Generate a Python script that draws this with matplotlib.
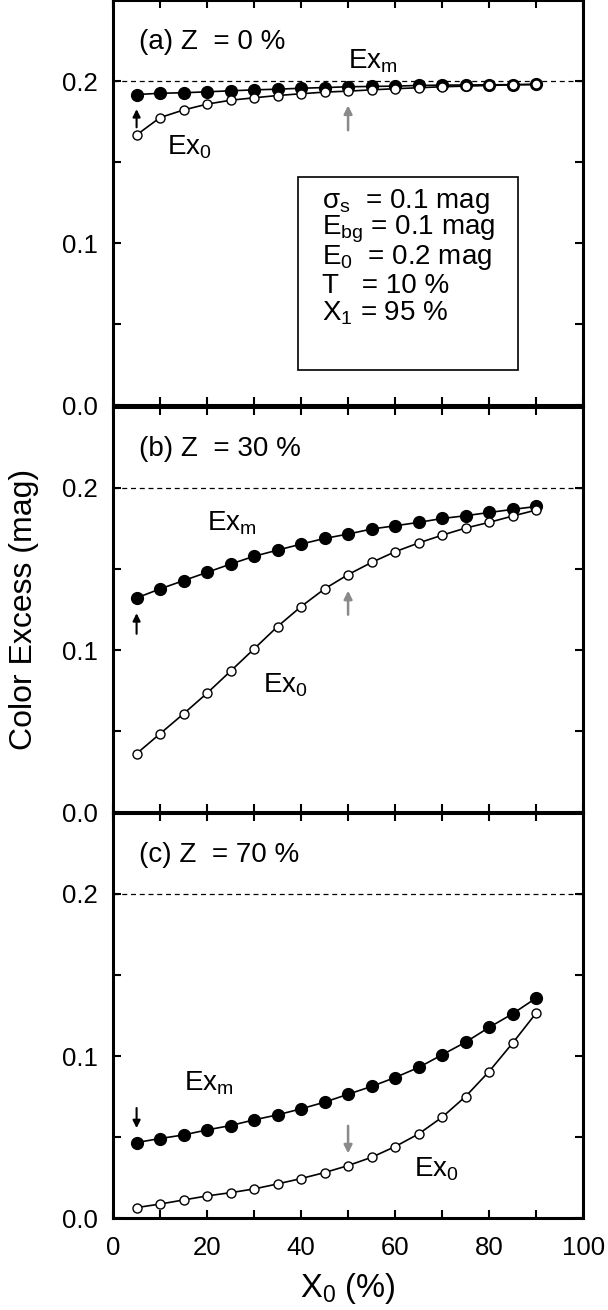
import matplotlib
matplotlib.use("Agg")
import matplotlib.pyplot as plt
from matplotlib.patches import Rectangle

plt.rcParams["font.family"] = ["Liberation Sans", "DejaVu Sans"]
plt.rcParams["mathtext.fontset"] = "custom"
plt.rcParams["mathtext.rm"] = "Liberation Sans"
plt.rcParams["mathtext.default"] = "regular"

# X0 (%) grid
x0 = [5, 10, 15, 20, 25, 30, 35, 40, 45, 50, 55, 60, 65, 70, 75, 80, 85, 90]

# (a) Z = 0 %
exm_a = [0.1917, 0.1925, 0.1928, 0.1934, 0.1940, 0.1946, 0.1950, 0.1956, 0.1960,
         0.1965, 0.1967, 0.1969, 0.1973, 0.1975, 0.1976, 0.1977, 0.1978, 0.1980]
ex0_a = [0.1668, 0.1775, 0.1822, 0.1858, 0.1882, 0.1897, 0.1911, 0.1922, 0.1932,
         0.1938, 0.1946, 0.1953, 0.1959, 0.1965, 0.1969, 0.1973, 0.1977, 0.1979]

# (b) Z = 30 %
exm_b = [0.1321, 0.1377, 0.1428, 0.1479, 0.1530, 0.1578, 0.1616, 0.1653, 0.1688,
         0.1715, 0.1746, 0.1766, 0.1787, 0.1811, 0.1828, 0.1848, 0.1867, 0.1885]
ex0_b = [0.0361, 0.0484, 0.0607, 0.0734, 0.0870, 0.1007, 0.1145, 0.1268, 0.1377,
         0.1465, 0.1540, 0.1606, 0.1660, 0.1708, 0.1752, 0.1787, 0.1826, 0.1863]

# (c) Z = 70 %
exm_c = [0.0467, 0.0492, 0.0514, 0.0545, 0.0572, 0.0607, 0.0638, 0.0675, 0.0716,
         0.0765, 0.0813, 0.0868, 0.0930, 0.1008, 0.1086, 0.1177, 0.1261, 0.1358]
ex0_c = [0.0066, 0.0088, 0.0113, 0.0138, 0.0158, 0.0181, 0.0212, 0.0245, 0.0282,
         0.0325, 0.0376, 0.0442, 0.0520, 0.0623, 0.0751, 0.0905, 0.1080, 0.1265]

panel_titles = ["(a) Z  = 0 %", "(b) Z  = 30 %", "(c) Z  = 70 %"]
e_true = 0.2

# arrows: (x, tail y, head y)
black_arrows = [(5, 0.1715, 0.1827), (5, 0.110, 0.1227), (5, 0.068, 0.0556)]
grey_arrows = [(50, 0.1697, 0.185), (50, 0.1218, 0.1366), (50, 0.057, 0.040)]

# label positions (x, y) for Exm and Ex0
exm_pos = [(50, 0.212), (20, 0.178), (15, 0.083)]
ex0_pos = [(11.5, 0.159), (32, 0.078), (64, 0.030)]

param_lines = ["σ$_s$  = 0.1 mag", "E$_{bg}$ = 0.1 mag", "E$_0$  = 0.2 mag",
               "T   = 10 %", "X$_1$ = 95 %"]

fig = plt.figure(figsize=(6.08, 13.1), dpi=100)
bottoms = [0.6905, 0.3800, 0.0700]
height = 0.3095
left, width = 0.186, 0.773

data = [(exm_a, ex0_a), (exm_b, ex0_b), (exm_c, ex0_c)]
for i, (exm, ex0) in enumerate(data):
    ax = fig.add_axes([left, bottoms[i], width, height])
    ax.axhline(e_true, color="black", ls=(0, (4, 3)), lw=0.9, zorder=1)
    ax.plot(x0, exm, "-o", color="black", mfc="black", mec="black",
            ms=8.5, lw=1.2, zorder=3)
    ax.plot(x0, ex0, "-o", color="black", mfc="white", mec="black",
            ms=6.5, mew=1.0, lw=1.2, zorder=4)

    ax.set_xlim(0, 100)
    ax.set_ylim(0, 0.25)
    ax.set_xticks([0, 20, 40, 60, 80, 100])
    ax.set_xticks([10, 30, 50, 70, 90], minor=True)
    ax.set_yticks([0.0, 0.1, 0.2])
    ax.set_yticks([0.05, 0.15], minor=True)
    ax.set_yticklabels(["0.0", "0.1", "0.2"])
    if i < 2:
        ax.set_xticklabels([])
    ax.tick_params(which="both", direction="in", top=True, right=True,
                   length=6, width=1.5, labelsize=18.5)
    ax.tick_params(axis="y", pad=11)
    ax.tick_params(axis="x", pad=13)
    for s in ax.spines.values():
        s.set_linewidth(2.2)

    ax.text(5.5, 0.224, panel_titles[i], fontsize=20, va="center", ha="left")
    ax.text(exm_pos[i][0], exm_pos[i][1], r"E$\mathregular{x_m}$",
            fontsize=20, ha="left", va="center")
    ax.text(ex0_pos[i][0], ex0_pos[i][1], r"E$\mathregular{x_0}$",
            fontsize=20, ha="left", va="center")

    bx, by0, by1 = black_arrows[i]
    ax.annotate("", xy=(bx, by1), xytext=(bx, by0),
                arrowprops=dict(arrowstyle="-|>", color="black", lw=1.5,
                                mutation_scale=11, shrinkA=0, shrinkB=0))
    gx, gy0, gy1 = grey_arrows[i]
    ax.annotate("", xy=(gx, gy1), xytext=(gx, gy0),
                arrowprops=dict(arrowstyle="-|>", color="#8a8a8a", lw=1.8,
                                mutation_scale=12, shrinkA=0, shrinkB=0))

    if i == 0:
        ax.add_patch(Rectangle((39.4, 0.0217), 46.8, 0.1189, fill=False,
                               ec="black", lw=1.2, zorder=5))
        for k, line in enumerate(param_lines):
            ax.text(44.5, 0.1255 - k * 0.0172, line, fontsize=20,
                    ha="left", va="center")
    if i == 2:
        ax.set_xlabel(r"X$_0$ (%)", fontsize=23.5, labelpad=8)

fig.text(0.04, 0.535, "Color Excess (mag)", rotation=90, fontsize=23,
         ha="center", va="center")

fig.savefig("out.png", dpi=100)
